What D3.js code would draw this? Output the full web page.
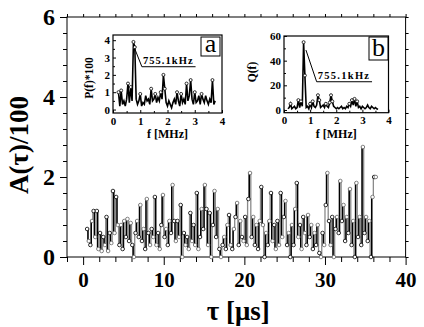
<!DOCTYPE html>
<html>
<head>
<meta charset="utf-8">
<script src="https://cdn.jsdelivr.net/npm/d3@7"></script>
<style>
body { margin: 0; background: #fff; }
text { font-family: "Liberation Serif", "Times New Roman", serif; font-weight: bold; }
</style>
</head>
<body>
<div id="chart"></div>
<script>
const width = 424;
const height = 327;

// main series: A(tau)/100, sampled every 0.2 us from 0.5 us
const tau0 = 0.5;
const dTau = 0.2;
const amp = [
    0.7, 0.4, 0.3, 0.9, 1.15, 0.5, 1.15, 0.2, 0.6, 0.15,
    0.5, 0.3, 1.0, 0.15, 0.6, 0.35, 1.65, 0.6, 1.5, 0.8,
    0.3, 0.8, 0.2, 0.9, 0.5, 0.95, 0.4, 0.85, 0.3, 0.0,
    0.6, 0.9, 0.5, 1.3, 0.4, 0.7, 0.2, 1.45, 0.6, 0.3,
    0.7, 0.5, 1.5, 0.3, 0.6, 0.2, 0.8, 1.55, 0.5, 0.7,
    0.3, 0.9, 0.6, 1.8, 0.9, 0.4, 0.9, 0.5, 1.3, 0.0,
    0.6, 0.3, 0.5, 0.2, 1.1, 0.4, 0.8, 0.3, 1.6, 0.2,
    0.5, 1.2, 0.7, 1.8, 1.2, 0.3, 1.1, 0.0, 0.8, 1.65,
    0.5, 1.2, 0.2, 0.0, 0.3, 0.5, 0.2, 0.8, 1.05, 0.3,
    0.2, 0.7, 1.0, 1.35, 0.3, 0.9, 0.5, 0.4, 1.0, 0.3,
    1.45, 2.1, 0.5, 1.0, 0.3, 0.8, 0.2, 0.9, 1.75, 0.8,
    0.0, 0.6, 0.3, 0.9, 1.6, 0.4, 0.8, 0.2, 0.9, 0.3,
    1.6, 0.5, 1.0, 1.4, 0.3, 0.6, 0.0, 0.8, 0.3, 1.2,
    1.85, 0.5, 0.8, 0.2, 1.0, 0.6, 0.3, 1.05, 0.5, 0.8,
    0.2, 0.6, 0.3, 0.8, 0.1, 0.0, 0.6, 0.3, 1.3, 2.1,
    0.9, 0.3, 1.0, 0.0, 0.7, 1.0, 0.6, 1.9, 0.9, 1.3,
    0.4, 1.0, 0.6, 1.7, 0.3, 0.9, 0.0, 1.85, 0.5, 1.0,
    0.3, 2.75, 0.6, 1.0, 0.4, 0.9, 0.0, 1.5, 2.0, 2.0
];
const xTicks = [0, 10, 20, 30, 40];
const yTicks = [0, 2, 4, 6];

// inset a: P(f)*100, every 0.05 MHz from 0.2 MHz
const fA0 = 0.2;
const dfA = 0.05;
const powerA = [
    1.0, 0.2, 1.1, 0.3, 0.5, 0.2, 0.6, 1.5, 0.4, 1.3,
    0.5, 3.9, 3.6, 0.6, 0.3, 0.5, 0.9, 0.2, 0.4, 0.3,
    0.8, 0.5, 0.6, 0.3, 1.2, 0.5, 0.6, 0.9, 0.4, 0.7,
    0.5, 1.0, 0.6, 2.0, 1.2, 0.4, 0.2, 0.5, 0.3, 0.1,
    0.4, 0.6, 0.3, 1.0, 0.5, 0.2, 0.9, 0.4, 0.6, 0.3,
    1.5, 0.5, 0.8, 1.7, 0.6, 0.3, 1.0, 0.4, 0.5, 0.8,
    0.3, 0.9, 0.6, 0.4, 0.8, 0.5, 0.3, 0.6, 0.4, 1.7,
    0.3, 0.5
];
const ticksA = [0, 1, 2, 3, 4];

// inset b: Q(f), every 0.05 MHz from 0.15 MHz
const fB0 = 0.15;
const dfB = 0.05;
const qB = [
    1, 2, 5, 1, 2, 3, 1, 2, 8, 2,
    7, 3, 55, 28, 2, 3, 1, 5, 2, 7,
    3, 2, 4, 12, 8, 2, 3, 4, 2, 5,
    3, 2, 6, 12, 7, 3, 2, 1, 2, 1,
    2, 3, 1, 2, 1, 3, 2, 5, 3, 8,
    4, 9, 3, 7, 2, 3, 1, 3, 2, 1,
    2, 4, 2, 1, 3, 2, 1, 2, 1, 0.5
];
const ticksBx = [0, 1, 2, 3, 4];
const ticksBy = [0, 20, 40, 60];

const svg = d3.select("#chart")
    .append("svg")
    .attr("width", width)
    .attr("height", height);

const x = d3.scaleLinear().domain([-2, 40]).range([67, 405.6]);
const y = d3.scaleLinear().domain([0, 6]).range([257, 17]);

function styleAxis(g, size) {
    g.select(".domain").remove();
    g.selectAll("line").attr("stroke", "#000");
    g.selectAll("text").attr("font-size", size).attr("fill", "#000");
}

// minor ticks
const xMinor = d3.range(-2, 40.01, 2).filter(v => xTicks.indexOf(v) < 0);
const yMinor = d3.range(0, 6.01, 0.4).filter(v => yTicks.every(t => Math.abs(t - v) > 1e-6));

svg.append("g")
    .attr("transform", "translate(0,257)")
    .call(d3.axisBottom(x).tickValues(xTicks).tickSize(8).tickPadding(7).tickFormat(d3.format("d")))
    .call(g => styleAxis(g, 21));
svg.append("g")
    .attr("transform", "translate(0,257)")
    .call(d3.axisBottom(x).tickValues(xMinor).tickSize(5).tickFormat(""))
    .call(g => styleAxis(g, 0));
svg.append("g")
    .attr("transform", "translate(" + x(-2) + ",0)")
    .call(d3.axisLeft(y).tickValues(yTicks).tickSize(7).tickPadding(5).tickFormat(d3.format("d")))
    .call(g => styleAxis(g, 24));
svg.append("g")
    .attr("transform", "translate(" + x(-2) + ",0)")
    .call(d3.axisLeft(y).tickValues(yMinor).tickSize(4).tickFormat(""))
    .call(g => styleAxis(g, 0));
svg.append("g")
    .attr("transform", "translate(0," + y(6) + ")")
    .call(d3.axisTop(x).tickValues(d3.range(-2, 40.01, 2)).tickSize(3).tickFormat(""))
    .call(g => styleAxis(g, 0));
svg.append("g")
    .attr("transform", "translate(" + x(40) + ",0)")
    .call(d3.axisRight(y).tickValues(d3.range(0, 6.01, 0.4)).tickSize(3).tickFormat(""))
    .call(g => styleAxis(g, 0));

svg.append("rect")
    .attr("x", x(-2)).attr("y", y(6))
    .attr("width", x(40) - x(-2)).attr("height", y(0) - y(6))
    .attr("fill", "none").attr("stroke", "#000").attr("stroke-width", 1);

// axis titles
svg.append("text")
    .attr("x", (x(-2) + x(40)) / 2 + 2).attr("y", 320)
    .attr("text-anchor", "middle").attr("font-size", 27)
    .text("τ [μs]");
svg.append("text")
    .attr("transform", "translate(28,145) rotate(-90)")
    .attr("text-anchor", "middle").attr("font-size", 27)
    .text("A(τ)/100");

// main series, drawn as steps, alternate segments black / grey
const pts = amp.map((a, i) => ({ t: tau0 + i * dTau, a: a, i: i }));
const segs = pts.slice(1).map((p, i) => [pts[i], p]);
const stepLine = d3.line().x(p => x(p.t)).y(p => y(p.a)).curve(d3.curveStep);
const mainG = svg.append("g");
mainG.selectAll("path")
    .data(segs)
    .enter().append("path")
    .attr("d", d => stepLine(d))
    .attr("fill", "none")
    .attr("stroke", (d, i) => i % 2 ? "#8a8a8a" : "#000")
    .attr("stroke-width", (d, i) => i % 2 ? 1.3 : 1.6);
mainG.selectAll("circle")
    .data(pts)
    .enter().append("circle")
    .attr("cx", d => x(d.t))
    .attr("cy", d => y(d.a))
    .attr("r", 1.8)
    .attr("fill", "#fff")
    .attr("stroke", d => d.i % 2 ? "#666" : "#000")
    .attr("stroke-width", 0.8);

// insets
function drawInset(o) {
    const g = svg.append("g");
    const [x0, x1] = o.fx.range();
    const [y0, y1] = o.fy.range();
    g.append("rect")
        .attr("x", x0).attr("y", y1)
        .attr("width", x1 - x0).attr("height", y0 - y1)
        .attr("fill", "#fff");

    g.append("g")
        .attr("transform", "translate(0," + y0 + ")")
        .call(d3.axisBottom(o.fx).tickValues(o.xTicks).tickSize(-3).tickPadding(4).tickFormat(d3.format("d")))
        .call(a => styleAxis(a, 11));
    g.append("g")
        .attr("transform", "translate(0," + y0 + ")")
        .call(d3.axisBottom(o.fx).tickValues(o.xMinor).tickSize(-2).tickFormat(""))
        .call(a => styleAxis(a, 0));
    g.append("g")
        .attr("transform", "translate(" + x0 + ",0)")
        .call(d3.axisLeft(o.fy).tickValues(o.yTicks).tickSize(-3).tickPadding(3).tickFormat(d3.format("d")))
        .call(a => styleAxis(a, 11));
    g.append("g")
        .attr("transform", "translate(" + x0 + ",0)")
        .call(d3.axisLeft(o.fy).tickValues(o.yMinor).tickSize(-2).tickFormat(""))
        .call(a => styleAxis(a, 0));

    const line = d3.line().x(d => o.fx(d.f)).y(d => o.fy(d.v));
    g.append("path")
        .datum(o.data)
        .attr("d", line)
        .attr("fill", "none")
        .attr("stroke", "#000")
        .attr("stroke-width", 1.6);
    g.selectAll("circle")
        .data(o.data.filter(d => d.v > o.markMin))
        .enter().append("circle")
        .attr("cx", d => o.fx(d.f))
        .attr("cy", d => o.fy(d.v))
        .attr("r", 1.5)
        .attr("fill", "#fff")
        .attr("stroke", "#000")
        .attr("stroke-width", 0.8);

    g.append("rect")
        .attr("x", x0).attr("y", y1)
        .attr("width", x1 - x0).attr("height", y0 - y1)
        .attr("fill", "none").attr("stroke", "#000").attr("stroke-width", 1.2);

    // annotation
    const an = o.note;
    g.append("line")
        .attr("x1", o.fx(an.tip[0])).attr("y1", o.fy(an.tip[1]))
        .attr("x2", o.fx(an.start[0])).attr("y2", o.fy(an.start[1]))
        .attr("stroke", "#000").attr("stroke-width", 1);
    g.append("line")
        .attr("x1", o.fx(an.start[0])).attr("y1", o.fy(an.start[1]))
        .attr("x2", o.fx(an.end)).attr("y2", o.fy(an.start[1]))
        .attr("stroke", "#000").attr("stroke-width", 1);
    g.append("text")
        .attr("x", o.fx(an.start[0]) + 1).attr("y", o.fy(an.start[1]) - 2.5)
        .attr("font-size", 10.5)
        .attr("textLength", o.fx(an.end) - o.fx(an.start[0]) - 4)
        .text("755.1kHz");

    // letter box
    g.append("rect")
        .attr("x", o.box[0]).attr("y", o.box[1])
        .attr("width", o.box[2]).attr("height", o.box[3])
        .attr("fill", "#fff").attr("stroke", "#000").attr("stroke-width", 1);
    g.append("text")
        .attr("x", o.box[0] + o.box[2] / 2).attr("y", o.box[1] + o.box[3] - 4)
        .attr("text-anchor", "middle")
        .attr("font-size", 26).style("font-weight", "normal")
        .text(o.letter);

    g.append("text")
        .attr("x", (x0 + x1) / 2).attr("y", y0 + 25)
        .attr("text-anchor", "middle").attr("font-size", 12)
        .text("f [MHz]");
    g.append("text")
        .attr("transform", "translate(" + o.yLab[0] + "," + o.yLab[1] + ") rotate(-90)")
        .attr("text-anchor", "middle").attr("font-size", 11.5)
        .text(o.yTitle);
}

drawInset({
    fx: d3.scaleLinear().domain([0, 4]).range([113, 222]),
    fy: d3.scaleLinear().domain([-0.2, 4.3]).range([113, 35]),
    xTicks: ticksA,
    xMinor: [0.5, 1.5, 2.5, 3.5],
    yTicks: ticksA,
    yMinor: [0.5, 1.5, 2.5, 3.5],
    data: powerA.map((v, i) => ({ f: fA0 + i * dfA, v: v })),
    markMin: 0.85,
    note: { tip: [0.8, 3.5], start: [1.06, 2.47], end: 3.03 },
    box: [201, 37, 19, 19],
    letter: "a",
    yLab: [93, 78],
    yTitle: "P(f)*100"
});

drawInset({
    fx: d3.scaleLinear().domain([0, 4]).range([284, 388.5]),
    fy: d3.scaleLinear().domain([-2.2, 60]).range([112.7, 36]),
    xTicks: ticksBx,
    xMinor: [0.5, 1.5, 2.5, 3.5],
    yTicks: ticksBy,
    yMinor: [10, 30, 50],
    data: qB.map((v, i) => ({ f: fB0 + i * dfB, v: v })),
    markMin: 4.5,
    note: { tip: [0.84, 48.6], start: [1.25, 22.9], end: 3.37 },
    box: [369, 37, 19, 23],
    letter: "b",
    yLab: [256, 72],
    yTitle: "Q(f)"
});
</script>
</body>
</html>
